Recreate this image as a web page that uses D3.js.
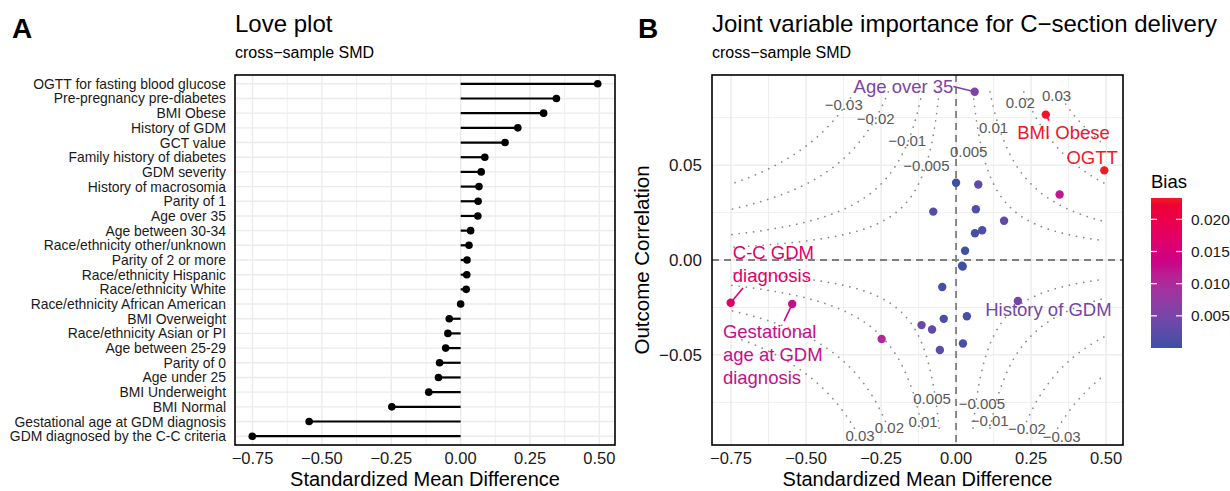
<!DOCTYPE html>
<html>
<head>
<meta charset="utf-8">
<script src="https://cdn.jsdelivr.net/npm/d3@7"></script>
<style>
  body { margin: 0; background: #fff; }
  text { font-family: "Liberation Sans", Arial, Helvetica, sans-serif; }
</style>
</head>
<body>
<div id="chart"></div>
<script>
// ---- data ----
const categories = [
  "OGTT for fasting blood glucose", "Pre-pregnancy pre-diabetes", "BMI Obese",
  "History of GDM", "GCT value", "Family history of diabetes", "GDM severity",
  "History of macrosomia", "Parity of 1", "Age over 35", "Age between 30-34",
  "Race/ethnicity other/unknown", "Parity of 2 or more", "Race/ethnicity Hispanic",
  "Race/ethnicity White", "Race/ethnicity African American", "BMI Overweight",
  "Race/ethnicity Asian or PI", "Age between 25-29", "Parity of 0", "Age under 25",
  "BMI Underweight", "BMI Normal", "Gestational age at GDM diagnosis",
  "GDM diagnosed by the C-C criteria"
];
const smd = [
  0.494, 0.345, 0.299, 0.206, 0.160, 0.087, 0.074, 0.066, 0.063, 0.062, 0.036,
  0.030, 0.023, 0.022, 0.020, 0.000, -0.041, -0.046, -0.054, -0.076, -0.080,
  -0.115, -0.248, -0.546, -0.751
];
const outcomeCorr = [
  0.0472, 0.0345, 0.0766, -0.0216, 0.0207, 0.0157, 0.0398, 0.0267, 0.0141, 0.0886, -0.0296,
  0.0049, -0.0440, -0.0034, -0.0030, 0.0407, -0.0310, -0.0142, -0.0474, 0.0255, -0.0366,
  -0.0343, -0.0416, -0.0232, -0.0225
];
const xTicks = [-0.75, -0.5, -0.25, 0, 0.25, 0.5];
const yTicksB = [-0.05, 0, 0.05];
const biasTicks = [0.005, 0.01, 0.015, 0.02];
const contourLevels = [-0.03, -0.02, -0.01, -0.005, 0.005, 0.01, 0.02, 0.03];
// where each contour value is written (data units)
const contourLabels = [
  {level: -0.03, x: -0.374, y: 0.082}, {level: -0.02, x: -0.268, y: 0.0743},
  {level: -0.01, x: -0.163, y: 0.063}, {level: -0.005, x: -0.099, y: 0.050},
  {level: 0.005, x: 0.042, y: 0.057}, {level: 0.01, x: 0.125, y: 0.070},
  {level: 0.02, x: 0.214, y: 0.0828}, {level: 0.03, x: 0.335, y: 0.0867},
  {level: 0.005, x: -0.080, y: -0.0729}, {level: 0.01, x: -0.110, y: -0.0853},
  {level: 0.02, x: -0.222, y: -0.088}, {level: 0.03, x: -0.320, y: -0.0924},
  {level: -0.005, x: 0.086, y: -0.0756}, {level: -0.01, x: 0.112, y: -0.0844},
  {level: -0.02, x: 0.236, y: -0.0888}, {level: -0.03, x: 0.352, y: -0.0929}
];
// repelled text labels in panel B (data units)
const pointLabels = [
  {name: "Age over 35", lines: ["Age over 35"], anchor: "end", x: -0.009, y: 0.0878, seg: [-0.009, 0.0914]},
  {name: "BMI Obese", lines: ["BMI Obese"], anchor: "start", x: 0.204, y: 0.0637, seg: [0.31, 0.0734]},
  {name: "OGTT for fasting blood glucose", lines: ["OGTT"], anchor: "end", x: 0.539, y: 0.0508, seg: null},
  {name: "GDM diagnosed by the C-C criteria", lines: ["C-C GDM", "diagnosis"], anchor: "start", x: -0.744, y: 0.0006, seg: [-0.71, -0.0147]},
  {name: "Gestational age at GDM diagnosis", lines: ["Gestational", "age at GDM", "diagnosis"], anchor: "start", x: -0.777, y: -0.041, seg: [-0.573, -0.0322]},
  {name: "History of GDM", lines: ["History of GDM"], anchor: "start", x: 0.097, y: -0.0295, seg: null}
];

const rows = categories.map((c, i) => ({name: c, smd: smd[i], corr: outcomeCorr[i], bias: Math.abs(smd[i] * outcomeCorr[i])}));

const width = 1230, height = 491;
const panelA = {left: 235, right: 615, top: 75, bottom: 445};
const panelB = {left: 712, right: 1123, top: 75, bottom: 445};
const gridCol = "#EBEBEB";
const tickCol = "#1a1a1a";
const fmt2 = d3.format(".2f");

const svg = d3.select("#chart").append("svg")
  .attr("width", width).attr("height", height);

// x domain with ggplot-like 5% expansion
const ext = d3.extent(smd);
const pad = (ext[1] - ext[0]) * 0.05;
const xDom = [ext[0] - pad, ext[1] + pad];
const isMajor = v => Math.abs(v / 0.25 - Math.round(v / 0.25)) < 1e-6;

// ================= Panel A =================
const xA = d3.scaleLinear().domain(xDom).range([panelA.left, panelA.right]);
const yA = d3.scalePoint().domain(categories).range([panelA.top, panelA.bottom]).padding(0.6);

const gA = svg.append("g");
// vertical grid (major + minor)
d3.range(-0.75, 0.51, 0.125).forEach(v => {
  gA.append("line")
    .attr("x1", xA(v)).attr("x2", xA(v))
    .attr("y1", panelA.top).attr("y2", panelA.bottom)
    .attr("stroke", gridCol).attr("stroke-width", isMajor(v) ? 1.4 : 0.8);
});
gA.selectAll(".hgrid").data(categories).join("line")
  .attr("x1", panelA.left).attr("x2", panelA.right)
  .attr("y1", d => yA(d)).attr("y2", d => yA(d))
  .attr("stroke", gridCol).attr("stroke-width", 1.4);

gA.selectAll(".stick").data(rows).join("line")
  .attr("x1", xA(0)).attr("x2", d => xA(d.smd))
  .attr("y1", d => yA(d.name)).attr("y2", d => yA(d.name))
  .attr("stroke", "#000").attr("stroke-width", 2.2);
gA.selectAll(".dot").data(rows).join("circle")
  .attr("cx", d => xA(d.smd)).attr("cy", d => yA(d.name))
  .attr("r", 3.8).attr("fill", "#000");

gA.append("rect")
  .attr("x", panelA.left).attr("y", panelA.top)
  .attr("width", panelA.right - panelA.left).attr("height", panelA.bottom - panelA.top)
  .attr("fill", "none").attr("stroke", "#000").attr("stroke-width", 1.6);

gA.selectAll(".ylab").data(categories).join("text")
  .attr("x", panelA.left - 9).attr("y", d => yA(d) + 5)
  .attr("text-anchor", "end").attr("font-size", 13.9).attr("fill", tickCol)
  .text(d => d);

gA.selectAll(".xlab").data(xTicks).join("text")
  .attr("x", d => xA(d)).attr("y", 464)
  .attr("text-anchor", "middle").attr("font-size", 16.5).attr("fill", tickCol)
  .text(d => fmt2(d));

gA.append("text").attr("x", (panelA.left + panelA.right) / 2).attr("y", 486)
  .attr("text-anchor", "middle").attr("font-size", 20).text("Standardized Mean Difference");

svg.append("text").attr("x", 12).attr("y", 38).attr("font-size", 28).attr("font-weight", "bold").text("A");
svg.append("text").attr("x", panelA.left).attr("y", 32).attr("font-size", 24).text("Love plot");
svg.append("text").attr("x", panelA.left).attr("y", 58).attr("font-size", 16).text("cross\u2212sample SMD");

// ================= Panel B =================
const yMax = d3.max(outcomeCorr, d => Math.abs(d));
const yPad = yMax * 2 * 0.05;
const xB = d3.scaleLinear().domain(xDom).range([panelB.left, panelB.right]);
const yB = d3.scaleLinear().domain([-yMax - yPad, yMax + yPad]).range([panelB.bottom, panelB.top]);

const biasMax = d3.max(rows, d => d.bias);
const colour = d3.scaleLinear().domain([0, biasMax]).range(["#3C50A2", "#EE1C24"]).interpolate(d3.interpolateHcl);

const gB = svg.append("g");
d3.range(-0.75, 0.51, 0.125).forEach(v => {
  gB.append("line")
    .attr("x1", xB(v)).attr("x2", xB(v))
    .attr("y1", panelB.top).attr("y2", panelB.bottom)
    .attr("stroke", gridCol).attr("stroke-width", isMajor(v) ? 1.4 : 0.8);
});
[-0.075, -0.05, -0.025, 0, 0.025, 0.05, 0.075].forEach((v, i) => {
  gB.append("line")
    .attr("x1", panelB.left).attr("x2", panelB.right)
    .attr("y1", yB(v)).attr("y2", yB(v))
    .attr("stroke", gridCol).attr("stroke-width", i % 2 ? 1.4 : 0.8);
});

// iso-bias contours: smd * corr = level, one branch on each side of zero
const contourLine = d3.line().x(d => xB(d[0])).y(d => yB(d[1]));
contourLevels.forEach(c => {
  const xmin = Math.abs(c) / yMax;
  [[xmin, ext[1]], [-xmin, ext[0]]].forEach(([a, b]) => {
    const pts = d3.range(0, 201).map(i => {
      const xv = a * Math.pow(b / a, i / 200);
      return [xv, c / xv];
    });
    gB.append("path").attr("d", contourLine(pts))
      .attr("fill", "none").attr("stroke", "#8a8a8a").attr("stroke-width", 1.7)
      .attr("stroke-linecap", "round").attr("stroke-dasharray", "0.1 7.2");
  });
});

gB.append("line").attr("x1", xB(0)).attr("x2", xB(0)).attr("y1", panelB.top).attr("y2", panelB.bottom)
  .attr("stroke", "#7f7f7f").attr("stroke-width", 1.8).attr("stroke-dasharray", "7 5");
gB.append("line").attr("x1", panelB.left).attr("x2", panelB.right).attr("y1", yB(0)).attr("y2", yB(0))
  .attr("stroke", "#7f7f7f").attr("stroke-width", 1.8).attr("stroke-dasharray", "7 5");

gB.selectAll(".clab").data(contourLabels).join("text")
  .attr("x", d => xB(d.x)).attr("y", d => yB(d.y))
  .attr("text-anchor", "middle").attr("dominant-baseline", "central")
  .attr("font-size", 15).attr("fill", "#595959")
  .text(d => String(d.level).replace("-", "\u2212"));

// label leader segments
const byName = new Map(rows.map(d => [d.name, d]));
pointLabels.filter(d => d.seg).forEach(l => {
  const r = byName.get(l.name);
  gB.append("line")
    .attr("x1", xB(r.smd)).attr("y1", yB(r.corr))
    .attr("x2", xB(l.seg[0])).attr("y2", yB(l.seg[1]))
    .attr("stroke", colour(r.bias)).attr("stroke-width", 1.6);
});

gB.selectAll(".pt").data(rows).join("circle")
  .attr("cx", d => xB(d.smd)).attr("cy", d => yB(d.corr))
  .attr("r", 4.2).attr("fill", d => colour(d.bias));

pointLabels.forEach(l => {
  const r = byName.get(l.name);
  const t = gB.append("text")
    .attr("x", xB(l.x)).attr("y", yB(l.y))
    .attr("text-anchor", l.anchor).attr("font-size", 18.5)
    .attr("fill", colour(r.bias));
  l.lines.forEach((s, i) => {
    t.append("tspan").attr("x", xB(l.x)).attr("dy", i === 0 ? 0 : 23.3).text(s);
  });
});

gB.append("rect")
  .attr("x", panelB.left).attr("y", panelB.top)
  .attr("width", panelB.right - panelB.left).attr("height", panelB.bottom - panelB.top)
  .attr("fill", "none").attr("stroke", "#000").attr("stroke-width", 1.6);

gB.selectAll(".xlab").data(xTicks).join("text")
  .attr("x", d => xB(d)).attr("y", 464)
  .attr("text-anchor", "middle").attr("font-size", 16.5).attr("fill", tickCol)
  .text(d => fmt2(d));
gB.selectAll(".ylab").data(yTicksB).join("text")
  .attr("x", panelB.left - 10).attr("y", d => yB(d) + 6)
  .attr("text-anchor", "end").attr("font-size", 17).attr("fill", tickCol)
  .text(d => fmt2(d));

gB.append("text").attr("x", (panelB.left + panelB.right) / 2).attr("y", 486)
  .attr("text-anchor", "middle").attr("font-size", 20).text("Standardized Mean Difference");
gB.append("text")
  .attr("transform", `translate(649, ${(panelB.top + panelB.bottom) / 2}) rotate(-90)`)
  .attr("text-anchor", "middle").attr("font-size", 20.5).text("Outcome Correlation");

svg.append("text").attr("x", 638).attr("y", 38).attr("font-size", 28).attr("font-weight", "bold").text("B");
svg.append("text").attr("x", panelB.left).attr("y", 32).attr("font-size", 24).text("Joint variable importance for C\u2212section delivery");
svg.append("text").attr("x", panelB.left).attr("y", 58).attr("font-size", 16).text("cross\u2212sample SMD");

// ---- colour bar legend ----
const leg = {x: 1151, y: 198, w: 31, h: 150};
const defs = svg.append("defs");
const grad = defs.append("linearGradient").attr("id", "biasGrad")
  .attr("x1", 0).attr("y1", 1).attr("x2", 0).attr("y2", 0);
d3.range(0, 1.0001, 0.05).forEach(t => {
  grad.append("stop").attr("offset", t).attr("stop-color", colour(t * biasMax));
});
const yLeg = d3.scaleLinear().domain([0, biasMax]).range([leg.y + leg.h, leg.y]);
svg.append("text").attr("x", leg.x).attr("y", 188).attr("font-size", 18.5).text("Bias");
svg.append("rect").attr("x", leg.x).attr("y", leg.y).attr("width", leg.w).attr("height", leg.h)
  .attr("fill", "url(#biasGrad)");
biasTicks.forEach(v => {
  [[leg.x, leg.x + 6], [leg.x + leg.w - 6, leg.x + leg.w]].forEach(([a, b]) => {
    svg.append("line").attr("x1", a).attr("x2", b).attr("y1", yLeg(v)).attr("y2", yLeg(v))
      .attr("stroke", "#fff").attr("stroke-width", 1.2);
  });
  svg.append("text").attr("x", leg.x + leg.w + 9).attr("y", yLeg(v) + 5.5)
    .attr("font-size", 15.5).attr("fill", tickCol).text(d3.format(".3f")(v));
});
</script>
</body>
</html>
